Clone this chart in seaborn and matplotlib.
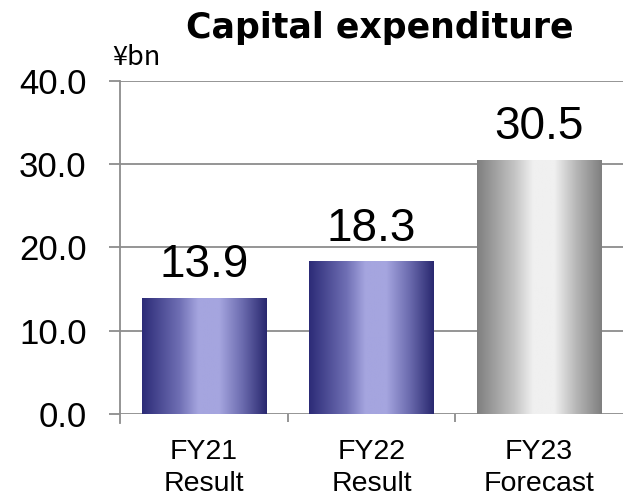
import numpy as np
import pandas as pd
import matplotlib
matplotlib.use("Agg")
import matplotlib.pyplot as plt
from matplotlib.colors import LinearSegmentedColormap
import seaborn as sns

CATEGORIES = ["FY21\nResult", "FY22\nResult", "FY23\nForecast"]
VALUES = [13.9, 18.3, 30.5]
KINDS = ["result", "result", "forecast"]
Y_TICKS = [0, 10, 20, 30, 40]

GRID = "#8c8c8c"

# two gradients: navy for results, grey for the forecast
grad = {
    "result": LinearSegmentedColormap.from_list(
        "navy", [(0, "#2c2b77"), (0.3, "#6f6fb4"), (0.45, "#a5a5df"),
                 (0.62, "#a5a5df"), (0.8, "#6d6db0"), (1, "#29286f")]),
    "forecast": LinearSegmentedColormap.from_list(
        "grey", [(0, "#7f7f7f"), (0.3, "#c4c4c4"), (0.45, "#f0f0f0"),
                 (0.62, "#f0f0f0"), (0.8, "#b5b5b5"), (1, "#7f7f7f")]),
}


def run():
    sns.set_style("white")
    plt.rcParams["font.family"] = ["Liberation Sans", "DejaVu Sans"]
    plt.rcParams["text.color"] = "black"
    plt.rcParams["xtick.color"] = "black"
    plt.rcParams["ytick.color"] = "black"

    df = pd.DataFrame({"cat": CATEGORIES, "val": VALUES})

    fig = plt.figure(figsize=(6.26, 4.96), dpi=100)
    ax = fig.add_axes([120 / 626, 82 / 496, 503 / 626, 333.5 / 496])

    sns.barplot(data=df, x="cat", y="val", ax=ax, width=0.74,
                color="white", saturation=1)

    ax.set_yticks(Y_TICKS)
    ax.set_yticklabels([f"{t:.1f}" for t in Y_TICKS], fontsize=25)
    ax.yaxis.grid(True, color=GRID, linewidth=1.3, zorder=0)
    ax.set_axisbelow(True)
    ax.set_xlabel("")
    ax.set_ylabel("")

    gx = np.linspace(0, 1, 256).reshape(1, -1)
    for patch, kind, v in zip(ax.patches, KINDS, VALUES):
        x0, w = patch.get_x(), patch.get_width()
        patch.set_facecolor("none")
        patch.set_edgecolor("none")
        im = ax.imshow(gx, cmap=grad[kind], aspect="auto",
                       extent=[x0, x0 + w, 0, v], zorder=2)
        im.set_clip_path(patch)
        ax.annotate(f"{v:.1f}", (x0 + w / 2, v), xytext=(0, 15),
                    textcoords="offset points", ha="center", va="baseline",
                    fontsize=33)
    ax.set_xlim(-0.5, 2.5)
    ax.set_ylim(0, 40)

    for s in ["top", "right", "bottom"]:
        ax.spines[s].set_visible(False)
    ax.spines["left"].set_color(GRID)
    ax.spines["left"].set_linewidth(1.3)
    ax.spines["left"].set_bounds(-1.1, 40)

    ax.tick_params(axis="y", length=8, width=1.3, color=GRID, pad=16, left=True)
    ax.tick_params(axis="x", which="major", length=0, pad=18, labelsize=20.5)
    for lab in ax.get_xticklabels():
        lab.set_linespacing(1.3)
    ax.set_xticks([0.5, 1.5], minor=True)
    ax.tick_params(axis="x", which="minor", length=6, width=1.3, color=GRID,
                   bottom=True, direction="out")

    fig.text(380 / 626, 1 - 38 / 496, "Capital expenditure", ha="center",
             va="baseline", fontsize=25, fontweight="bold",
             family=["DejaVu Sans"])
    fig.text(112 / 626, 1 - 65 / 496, "¥bn", ha="left", va="baseline",
             fontsize=19.5, family=["Noto Sans CJK JP", "DejaVu Sans"])

    fig.savefig("out.png", dpi=100)


if __name__ == "__main__":
    run()
